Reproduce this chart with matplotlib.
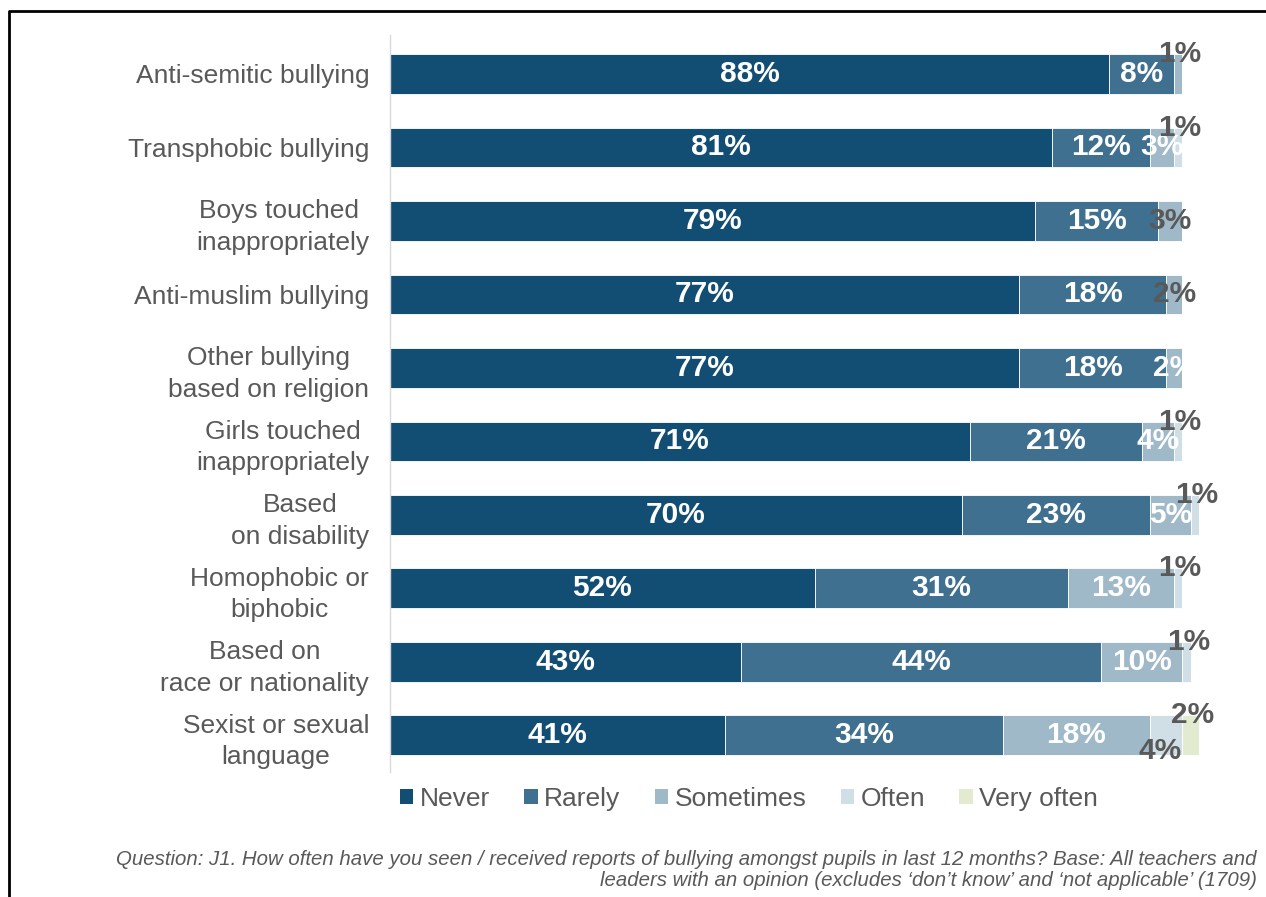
import numpy as np
import matplotlib.pyplot as plt
from matplotlib.patches import Patch
from matplotlib.lines import Line2D

categories = [
    "Anti-semitic bullying",
    "Transphobic bullying",
    "Boys touched \ninappropriately",
    "Anti-muslim bullying",
    "Other bullying\nbased on religion",
    "Girls touched\ninappropriately",
    "Based\non disability",
    "Homophobic or\nbiphobic",
    "Based on\nrace or nationality",
    "Sexist or sexual\nlanguage",
]
series = ["Never", "Rarely", "Sometimes", "Often", "Very often"]
never = [88, 81, 79, 77, 77, 71, 70, 52, 43, 41]
rarely = [8, 12, 15, 18, 18, 21, 23, 31, 44, 34]
sometimes = [1, 3, 3, 2, 2, 4, 5, 13, 10, 18]
often = [0, 1, 0, 0, 0, 1, 1, 1, 1, 4]
very_often = [0, 0, 0, 0, 0, 0, 0, 0, 0, 2]

colors = ["#124e73", "#3f7090", "#a0b9c9", "#d0dee6", "#e2ebcf"]
grey = "#595959"

# where each small label goes: 'mid' dark on bar, 'up' above bar, 'down' below bar
# anything not listed is white, centred in its segment
label_pos = {
    (0, 2): "up",
    (1, 3): "up",
    (2, 2): "mid",
    (3, 2): "mid",
    (5, 3): "up",
    (6, 3): "up",
    (7, 3): "up",
    (8, 3): "up",
    (9, 3): "down",
    (9, 4): "up",
}

plt.rcParams['font.family'] = ['Liberation Sans', 'DejaVu Sans']

fig = plt.figure(figsize=(12.66, 8.97), dpi=100)
ax = fig.add_axes([390 / 1266, 1 - 772 / 897, 817 / 1266, 737 / 897])

data = [never, rarely, sometimes, often, very_often]
y = np.arange(len(categories))
bar_h = 0.54
lbl_size = 21.5
left = np.zeros(len(categories))
for j, (vals, col) in enumerate(zip(data, colors)):
    vals = np.array(vals, dtype=float)
    ax.barh(y, vals, left=left, height=bar_h, color=col,
            edgecolor='white', linewidth=0.6)
    for i, v in enumerate(vals):
        if v <= 0:
            continue
        cx = left[i] + v / 2
        mode = label_pos.get((i, j), "in")
        txt = f"{int(v)}%"
        if mode == "in":
            ax.text(cx, y[i], txt, ha='center', va='center', color='white',
                    fontsize=lbl_size, fontweight='bold')
        elif mode == "mid":
            ax.text(cx, y[i], txt, ha='center', va='center', color=grey,
                    fontsize=lbl_size, fontweight='bold')
        elif mode == "up":
            ax.text(cx + 0.2, y[i] - 0.27, txt, ha='center', va='center',
                    color=grey, fontsize=lbl_size, fontweight='bold')
        else:
            ax.text(cx - 0.7, y[i] + 0.22, txt, ha='center', va='center',
                    color=grey, fontsize=lbl_size, fontweight='bold')
    left += vals

ax.set_xlim(0, 100)
ax.set_ylim(9.5, -0.53)
ax.set_yticks(y)
ax.set_yticklabels(categories, fontsize=19, color=grey, linespacing=1.4,
                   multialignment='center')
ax.tick_params(axis='y', length=0, pad=15)
ax.set_xticks([])
for side in ['top', 'right', 'bottom']:
    ax.spines[side].set_visible(False)
ax.spines['left'].set_color('#d9d9d9')
ax.spines['left'].set_linewidth(1)
ax.set_facecolor('none')

handles = [Patch(facecolor=c, edgecolor='none', label=s) for c, s in zip(colors, series)]
fig.legend(handles=handles, loc='center', bbox_to_anchor=(749 / 1266, 1 - 799 / 897),
           ncol=5, frameon=False, fontsize=19, handlelength=0.5, handleheight=0.5,
           handletextpad=0.25, columnspacing=1.3, labelcolor=grey)

note = ("Question: J1. How often have you seen / received reports of bullying amongst pupils in last 12 months? Base: All teachers and\n"
        "leaders with an opinion (excludes \u2018don\u2019t know\u2019 and \u2018not applicable\u2019 (1709)")
fig.text(1257 / 1266, 1 - 870 / 897, note, ha='right', va='center', fontsize=14.7,
         style='italic', color=grey, linespacing=1.15,
         family=['Liberation Sans Narrow', 'Liberation Sans', 'DejaVu Sans'])

# box border around the chart
fig.add_artist(Line2D([9 / 1266, 9 / 1266, 1], [0, 1 - 11 / 897, 1 - 11 / 897],
                      transform=fig.transFigure, color='black', linewidth=2))

fig.savefig('out.png', dpi=100, facecolor='white')
plt.close(fig)
